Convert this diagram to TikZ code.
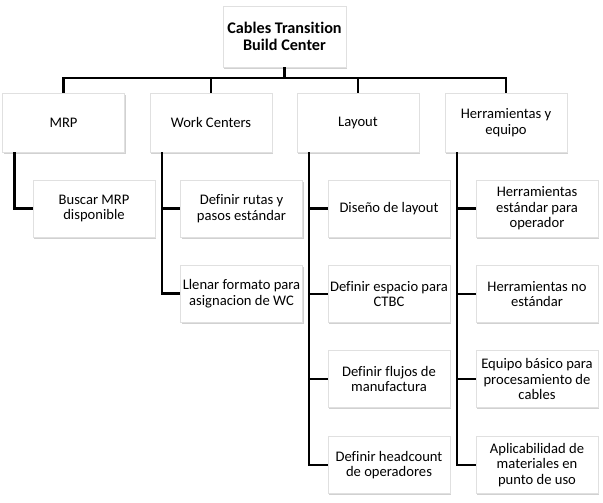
\documentclass[tikz,border=0pt]{standalone}
\usepackage{fontspec}
\setmainfont{Carlito}[Ligatures=NoCommon]
\usetikzlibrary{shadows}

\begin{document}
\begin{tikzpicture}[x=1pt, y=-1pt,
    every node/.style={font=\fontsize{14.6}{15.6}\selectfont, align=center},
    box/.style={rectangle, draw=black!12, fill=white, minimum width=122pt, minimum height=57pt, inner xsep=0.5pt, inner ysep=2pt,
        drop shadow={shadow xshift=1.2pt, shadow yshift=-1.6pt, fill=black!40, opacity=0.45}},
    link/.style={line width=2.4pt, black}]
    \useasboundingbox (0,0) rectangle (603,503);

    \node[box, minimum width=123pt, minimum height=61pt, font=\fontsize{16.2}{17}\selectfont\bfseries] (ctbc) at (284.5,36.5) {Cables Transition\\Build Center};

    \node[box, minimum height=59pt] (mrp) at (63.5,122.5) {MRP};
    \node[box, minimum height=59pt] (wc) at (211,122.5) {Work Centers};
    \node[box, minimum height=59pt] (lay) at (358,122.5) {Layout};
    \node[box, minimum height=59pt] (herr) at (506,122.5) {Herramientas y\\equipo};

    \node[box] (mrp1) at (94,208.5) {Buscar MRP\\disponible};

    \node[box] (wc1) at (241.5,208.5) {Definir rutas y\\pasos estándar};
    \node[box] (wc2) at (241.5,293.5) {Llenar formato para\\asignacion de WC};

    \node[box] (lay1) at (389,208.5) {Diseño de layout};
    \node[box] (lay2) at (389,294) {Definir espacio para\\CTBC};
    \node[box] (lay3) at (389,379) {Definir flujos de\\manufactura};
    \node[box] (lay4) at (389,465) {Definir headcount\\de operadores};

    \node[box] (herr1) at (537,208.5) {Herramientas\\estándar para\\operador};
    \node[box] (herr2) at (537,294) {Herramientas no\\estándar};
    \node[box] (herr3) at (537,379) {Equipo básico para\\procesamiento de\\cables};
    \node[box] (herr4) at (537,465) {Aplicabilidad de\\materiales en\\punto de uso};

    \coordinate (bar) at (0,78);
    \foreach \n in {mrp,wc,lay,herr}
        \draw[link] (ctbc.south) |- (bar -| \n.north) -- (\n.north);

    \coordinate (mrpv) at ([xshift=12pt]mrp.south west);
    \coordinate (wcv) at ([xshift=12pt]wc.south west);
    \coordinate (layv) at ([xshift=12pt]lay.south west);
    \coordinate (herrv) at ([xshift=12pt]herr.south west);

    \draw[link] (mrpv) |- (mrp1.west);
    \foreach \c in {wc1,wc2}
        \draw[link] (wcv) |- (\c.west);
    \foreach \c in {lay1,lay2,lay3,lay4}
        \draw[link] (layv) |- (\c.west);
    \foreach \c in {herr1,herr2,herr3,herr4}
        \draw[link] (herrv) |- (\c.west);
\end{tikzpicture}
\end{document}
